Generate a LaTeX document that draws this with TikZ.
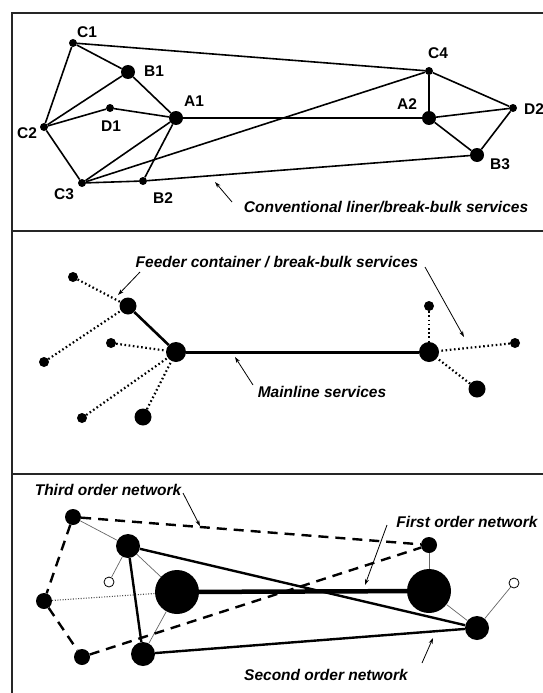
\documentclass[tikz,border=0pt]{standalone}
\usepackage{fontspec}
\setmainfont{Liberation Sans}
\usetikzlibrary{arrows.meta}
\tikzset{
  dotS/.style={circle,fill=black,inner sep=0pt,minimum size=8pt},
  dotB/.style={circle,fill=black,inner sep=0pt,minimum size=14pt},
  dotM/.style={circle,fill=black,inner sep=0pt,minimum size=#1},
  hollow/.style={circle,draw=black,line width=0.8pt,fill=white,inner sep=0pt,minimum size=10pt},
  lab/.style={font=\fontsize{15.5}{15.5}\selectfont\bfseries,inner sep=0pt},
  note/.style={font=\fontsize{15.5}{15.5}\selectfont\bfseries\itshape,inner sep=0pt},
  link/.style={line width=1.6pt},
  frameline/.style={line width=1.6pt,draw=black!85},
  pointer/.style={line width=0.8pt,-{Stealth[length=6pt,width=4pt]}},
  feeder/.style={line width=2.2pt,dash pattern=on 1.6pt off 2.6pt},
  mainline/.style={line width=3pt},
  third/.style={line width=2.4pt,dash pattern=on 10pt off 7pt},
  second/.style={line width=2.4pt},
  first/.style={line width=4.5pt},
  thinl/.style={line width=0.7pt,draw=black!60},
  dotted3/.style={line width=1.1pt,dash pattern=on 1pt off 1.6pt,draw=black!70}
}
\begin{document}
\begin{tikzpicture}[x=1pt,y=-1pt]
\useasboundingbox (0,0) rectangle (543,693);
% frame
\coordinate (fTL) at (12,13);
\coordinate (fTR) at (543,13);
\coordinate (fBL) at (12,693);
\coordinate (s1L) at (12,231);
\coordinate (s1R) at (543,231);
\coordinate (s2L) at (12,474);
\coordinate (s2R) at (543,474);
\draw[frameline] (fTR) -- (fTL) -- (fBL);
\draw[frameline] (s1L) -- (s1R);
\draw[frameline] (s2L) -- (s2R);

% ---------- Panel 1 ----------
\node[dotS] (C1) at (73,43) {};
\node[dotB] (B1) at (128,72) {};
\node[dotB] (A1) at (176,118) {};
\node[dotS] (D1) at (110,108) {};
\node[dotS] (C2) at (44,127) {};
\node[dotS] (C3) at (82,183) {};
\node[dotS] (B2) at (143,181) {};
\node[dotS] (C4) at (429,71) {};
\node[dotB] (A2) at (429,118) {};
\node[dotS] (D2) at (513,108) {};
\node[dotB] (B3) at (477,155) {};
\foreach \a/\b in {C1/C4,C1/B1,C1/C2,B1/C2,B1/A1,D1/C2,D1/A1,C2/C3,C3/A1,C3/B2,C3/C4,A1/B2,A1/A2,B2/B3,C4/A2,C4/D2,A2/D2,A2/B3,B3/D2}
  \draw[link] (\a) -- (\b);
\node[lab] (lC1) at (87,32) {C1};
\node[lab] (lB1) at (154,71) {B1};
\node[lab] (lA1) at (194,101) {A1};
\node[lab] (lD1) at (111,126) {D1};
\node[lab] (lC2) at (27,133) {C2};
\node[lab] (lC3) at (64,194) {C3};
\node[lab] (lB2) at (163,198) {B2};
\node[lab] (lC4) at (438,53) {C4};
\node[lab] (lA2) at (407,104) {A2};
\node[lab,anchor=west] (lD2) at (524,109) {D2};
\node[lab] (lB3) at (500,164) {B3};
\node[note] (n1) at (386,207) {Conventional liner/break-bulk services};
\coordinate (p1a) at (232,202);
\coordinate (p1b) at (215,182);
\draw[pointer] (p1a) -- (p1b);

% ---------- Panel 2 ----------
\node[dotM=17pt] (H1) at (128,306) {};
\node[dotM=20pt] (M1) at (176,352) {};
\node[dotM=20pt] (M2) at (429,352) {};
\node[dotM=10pt] (f1) at (73,277) {};
\node[dotM=10pt] (f2) at (44,362) {};
\node[dotM=10pt] (f3) at (111,343) {};
\node[dotM=10pt] (f4) at (82,418) {};
\node[dotM=17pt] (f5) at (143,417) {};
\node[dotM=10pt] (g1) at (429,306) {};
\node[dotM=10pt] (g2) at (515,343) {};
\node[dotM=17pt] (g3) at (477,389) {};
\draw[feeder] (f1) -- (H1);
\draw[feeder] (f2) -- (H1);
\draw[feeder] (f3) -- (M1);
\draw[feeder] (f4) -- (M1);
\draw[feeder] (f5) -- (M1);
\draw[feeder] (g1) -- (M2);
\draw[feeder] (g2) -- (M2);
\draw[feeder] (g3) -- (M2);
\draw[line width=2.6pt] (H1) -- (M1);
\draw[mainline] (M1) -- (M2);
\node[note] (n2) at (277,262) {Feeder container / break-bulk services};
\coordinate (p2a) at (140,272);
\coordinate (p2b) at (118,295);
\coordinate (p2c) at (425,267);
\coordinate (p2d) at (464,337);
\draw[pointer] (p2a) -- (p2b);
\draw[pointer] (p2c) -- (p2d);
\node[note] (n3) at (322,392) {Mainline services};
\coordinate (p3a) at (253,385);
\coordinate (p3b) at (235,357);
\draw[pointer] (p3a) -- (p3b);

% ---------- Panel 3 ----------
\node[dotM=16pt] (T1) at (73,517) {};
\node[dotM=16pt] (T2) at (44,601) {};
\node[dotM=16pt] (T3) at (82,657) {};
\node[dotM=16pt] (T4) at (429,545) {};
\node[dotM=24pt] (S1) at (128,546) {};
\node[dotM=24pt] (S2) at (143,654) {};
\node[dotM=24pt] (S3) at (477,628) {};
\node[dotM=44pt] (F1) at (177,592) {};
\node[dotM=44pt] (F2) at (429,591) {};
\node[hollow] (O1) at (109,582) {};
\node[hollow] (O2) at (514,583) {};
\draw[thinl] (T1) -- (S1);
\draw[thinl] (S1) -- (O1);
\draw[thinl] (S1) -- (F1);
\draw[thinl] (F1) -- (S2);
\draw[thinl] (T4) -- (F2);
\draw[thinl] (F2) -- (S3);
\draw[thinl] (S3) -- (O2);
\draw[dotted3] (T2) -- (F1);
\draw[third] (T1) -- (T4);
\draw[third] (T1) -- (T2);
\draw[third] (T2) -- (T3);
\draw[third] (T3) -- (T4);
\draw[second] (S1) -- (S2);
\draw[second] (S1) -- (S3);
\draw[second] (S2) -- (S3);
\draw[first] (F1) -- (F2);
\node[note] (n4) at (108,490) {Third order network};
\node[note] (n5) at (467,522) {First order network};
\node[note] (n6) at (326,675) {Second order network};
\coordinate (p4a) at (183,493);
\coordinate (p4b) at (200,526);
\coordinate (p5a) at (387,525);
\coordinate (p5b) at (365,585);
\coordinate (p6a) at (422,663);
\coordinate (p6b) at (433,638);
\draw[pointer] (p4a) -- (p4b);
\draw[pointer] (p5a) -- (p5b);
\draw[pointer] (p6a) -- (p6b);
\end{tikzpicture}
\end{document}
